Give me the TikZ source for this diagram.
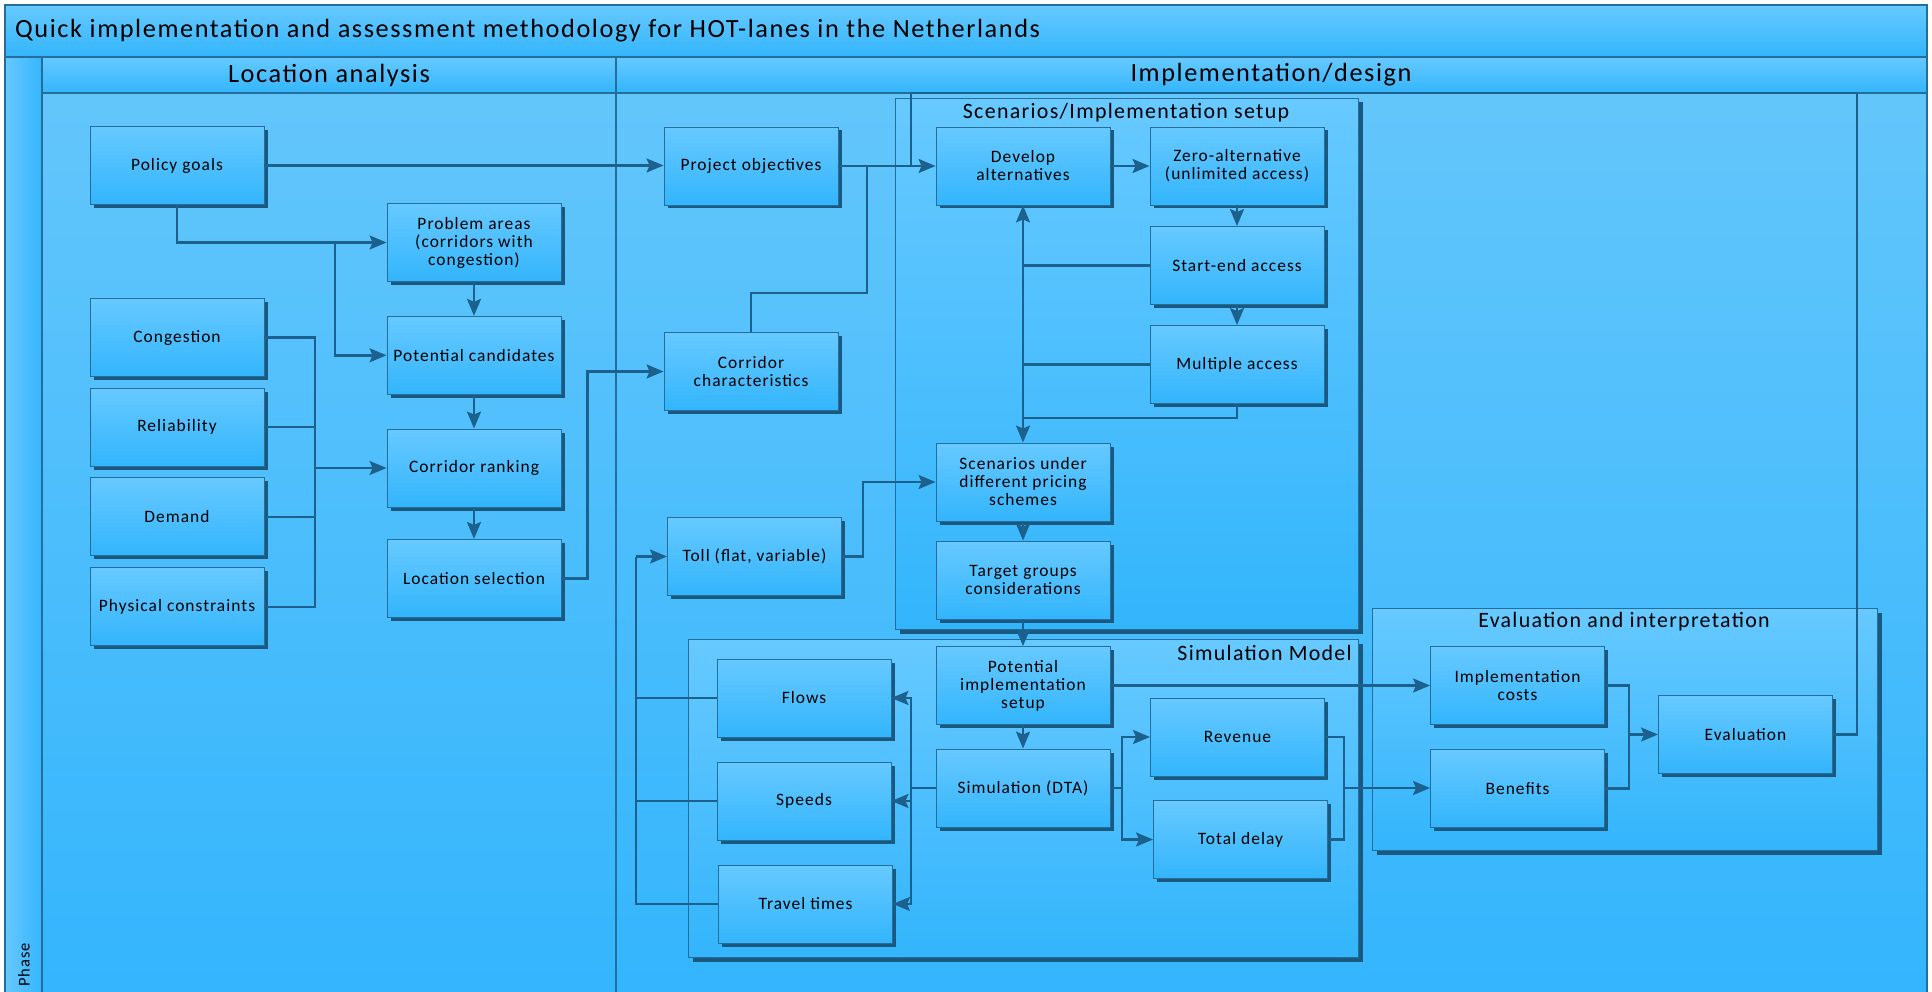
\documentclass[tikz,border=0pt]{standalone}
\usepackage{fontspec}
\setmainfont{Carlito}
\newfontfamily\spaced[LetterSpace=6]{Carlito}
\usetikzlibrary{arrows.meta,shadows,calc}

\definecolor{fillhi}{RGB}{103,201,255}
\definecolor{filllo}{RGB}{51,181,252}
\definecolor{lanehi}{RGB}{99,198,251}
\definecolor{lanelo}{RGB}{52,181,253}
\definecolor{edge}{RGB}{36,110,156}
\definecolor{wire}{RGB}{28,97,142}
\definecolor{shade}{RGB}{27,88,128}

\tikzset{
  proc/.style={draw=edge, line width=0.9pt, top color=fillhi, bottom color=filllo,
    minimum width=174pt, minimum height=78pt, align=center, inner sep=0pt,
    font=\spaced\fontsize{17.4}{18}\selectfont,
    general shadow={fill=shade, shadow xshift=3.5pt, shadow yshift=-3.5pt}},
  grp/.style={draw=edge, line width=0.9pt, top color=fillhi, bottom color=filllo,
    general shadow={fill=shade, shadow xshift=4.5pt, shadow yshift=-4.5pt}},
  band/.style={draw=edge, line width=1.2pt, top color=fillhi, bottom color=filllo},
  lanebody/.style={draw=edge, line width=1.2pt, top color=lanehi, bottom color=lanelo},
  wireln/.style={draw=wire, line width=2.4pt},
  flow/.style={wireln, -{Stealth[length=17pt,width=14pt,inset=3pt]}},
  bigtitle/.style={font=\spaced\fontsize{26.3}{28}\selectfont, inner sep=0pt},
  lanetitle/.style={font=\spaced\fontsize{26.3}{28}\selectfont, inner sep=0pt},
  grptitle/.style={font=\spaced\fontsize{21.9}{24}\selectfont, inner sep=0pt},
}

\begin{document}
\begin{tikzpicture}[x=1pt,y=-1pt]
\useasboundingbox (0,0) rectangle (1932,992);
\fill[white] (0,0) rectangle (1932,992);

% pool frame: title band, phase headers, lanes
\path[band] (5,5) rectangle (1927,57);
\node[bigtitle, anchor=west] (pooltitle) at (15,31) {Quick implementation and assessment methodology for HOT-lanes in the Netherlands};
\path[draw=edge, line width=1.2pt, left color=fillhi, right color=lanelo] (5,57) rectangle (42,996);
\path[band] (42,57) rectangle (616,93);
\path[band] (616,57) rectangle (1927,93);
\path[lanebody] (42,93) rectangle (616,996);
\path[lanebody] (616,93) rectangle (1927,996);
\node[lanetitle] (laneA) at (329,75) {Location analysis};
\node[lanetitle] (laneB) at (1271,75) {Implementation/design};
\node[rotate=90, font=\spaced\fontsize{16.5}{18}\selectfont, inner sep=0pt] (phase) at (24,965) {Phase};

% containers
\path[grp] (895,98) rectangle (1358,629);
\node[grptitle] (scentitle) at (1126,113) {Scenarios/Implementation setup};
\path[grp] (688,639) rectangle (1358,957);
\node[grptitle, anchor=east] (simtitle) at (1352,653) {Simulation Model};
\path[grp] (1372,608) rectangle (1877,850);
\node[grptitle] (evaltitle) at (1624,622) {Evaluation and interpretation};

% process boxes
\node[proc] (pg) at (177,165.5) {Policy goals};
\node[proc] (prob) at (474,242.5) {Problem areas\\(corridors with\\congestion)};
\node[proc] (cong) at (177,337.6) {Congestion};
\node[proc] (potc) at (474,355.3) {Potential candidates};
\node[proc] (rel) at (177,427) {Reliability};
\node[proc] (crk) at (474,468) {Corridor ranking};
\node[proc] (dem) at (177,516.8) {Demand};
\node[proc] (locs) at (474,578.4) {Location selection};
\node[proc] (phys) at (177,606.7) {Physical constraints};

\node[proc] (projobj) at (751,166) {Project objectives};
\node[proc] (corch) at (751,371.5) {Corridor\\characteristics};
\node[proc] (toll) at (754.5,556.5) {Toll (flat, variable)};

\node[proc] (devalt) at (1023,166) {Develop\\alternatives};
\node[proc] (zero) at (1237,166) {Zero-alternative\\(unlimited access)};
\node[proc] (startend) at (1237,265.5) {Start-end access};
\node[proc] (multi) at (1237,364.5) {Multiple access};
\node[proc] (scen) at (1023,482) {Scenarios under\\different pricing\\schemes};
\node[proc] (target) at (1023,580) {Target groups\\considerations};

\node[proc] (potimpl) at (1023,685.5) {Potential\\implementation\\setup};
\node[proc] (simdta) at (1023,788) {Simulation (DTA)};
\node[proc] (revenue) at (1237.5,737) {Revenue};
\node[proc] (delay) at (1240.5,839.5) {Total delay};
\node[proc] (flows) at (804,698) {Flows};
\node[proc] (speeds) at (804,801) {Speeds};
\node[proc] (travel) at (805.5,904) {Travel times};

\node[proc] (implcost) at (1517.5,685.5) {Implementation\\costs};
\node[proc] (benefits) at (1517.5,788.5) {Benefits};
\node[proc] (evaluation) at (1745.5,734.5) {Evaluation};

% junction points of the connectors
\coordinate (pgsplit) at (335,242.5);
\coordinate (critbus) at (315,468);
\coordinate (objmerge) at (867,166);
\coordinate (accbus) at (1023,418);
\coordinate (outbus) at (911,788);
\coordinate (kpibus) at (1122,788);
\coordinate (resbus) at (1344,788);
\coordinate (loopbus) at (636,556.5);
\coordinate (evalbus) at (1629,734.5);
\coordinate (fbtop) at (1857,93);
\coordinate (fbleft) at (911,93);

% location analysis
\draw[flow] (pg.east) -- (pg.east -| projobj.west);
\draw[flow] (pg.south) |- (prob.west);
\draw[flow] (pgsplit) |- (potc.west);
\draw[flow] (prob.south) -- (potc.north);
\draw[flow] (potc.south) -- (crk.north);
\draw[flow] (crk.south) -- (locs.north);
\draw[wireln] (cong.east) -| (critbus);
\draw[wireln] (phys.east) -| (critbus);
\draw[wireln] (rel.east) -- (rel.east -| critbus);
\draw[wireln] (dem.east) -- (dem.east -| critbus);
\draw[flow] (critbus) -- (crk.west);
\draw[flow] (locs.east) -- ++(26,0) |- (corch.west);

% scenarios
\draw[flow] (projobj.east) -- (devalt.west);
\draw[wireln] (corch.north) -- ++(0,-39) -| (objmerge);
\draw[flow] (devalt.east) -- (zero.west);
\draw[flow] (zero.south) -- (startend.north);
\draw[flow] (startend.south) -- (multi.north);
\draw[wireln] (startend.west) -- (startend.west -| accbus);
\draw[wireln] (multi.west) -- (multi.west -| accbus);
\draw[wireln] (multi.south) |- (accbus);
\draw[flow] (accbus) -- (devalt.south);
\draw[flow] (accbus) -- (scen.north);
\draw[flow] (toll.east) -- ++(21,0) |- (scen.west);
\draw[flow] (scen.south) -- (target.north);
\draw[flow] (target.south) -- (potimpl.north);

% simulation
\draw[flow] (potimpl.east) -- (implcost.west);
\draw[flow] (potimpl.south) -- (simdta.north);
\draw[wireln] (simdta.west) -- (outbus);
\draw[flow] (outbus) |- (flows.east);
\draw[flow] (outbus) |- (speeds.east);
\draw[flow] (outbus) |- (travel.east);
\draw[wireln] (simdta.east) -- (kpibus);
\draw[flow] (kpibus) |- (revenue.west);
\draw[flow] (kpibus) |- (delay.west);
\draw[wireln] (revenue.east) -| (resbus);
\draw[wireln] (delay.east) -| (resbus);
\draw[flow] (resbus) -- (resbus -| benefits.west);
\draw[wireln] (flows.west) -| (loopbus);
\draw[wireln] (speeds.west) -- (speeds.west -| loopbus);
\draw[wireln] (travel.west) -| (loopbus);
\draw[flow] (loopbus) -- (toll.west);

% evaluation and feedback
\draw[wireln] (implcost.east) -| (evalbus);
\draw[wireln] (benefits.east) -| (evalbus);
\draw[flow] (evalbus) -- (evaluation.west);
\draw[wireln] (evaluation.east) -| (fbtop) -- (fbleft) -- (fbleft |- devalt.west);
\end{tikzpicture}
\end{document}
